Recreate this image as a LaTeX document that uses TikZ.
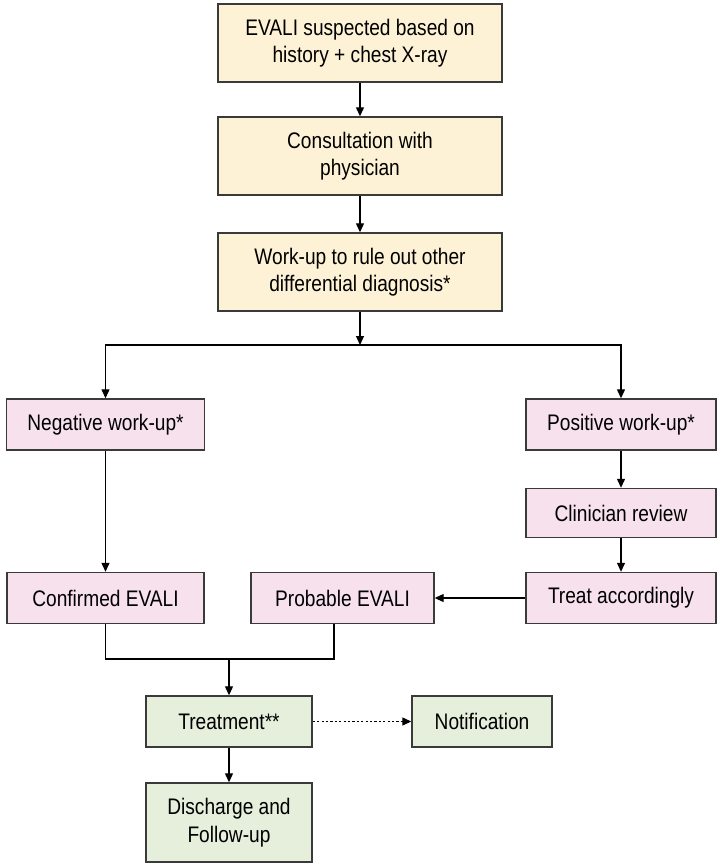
\documentclass[tikz,border=0pt]{standalone}
\usepackage{fontspec}
\setmainfont{Liberation Sans}[FakeStretch=0.85]
\usetikzlibrary{arrows.meta,calc}
\definecolor{edgec}{HTML}{3A3A3A}
\definecolor{yel}{HTML}{FEF2D6}
\definecolor{pnk}{HTML}{F7E1EC}
\definecolor{grn}{HTML}{E5EFDC}
\tikzset{
  boxbase/.style={draw=edgec, line width=1.4pt, rectangle, align=center, inner sep=0pt,
    font=\fontsize{22.5}{27.5}\selectfont},
  ybox/.style={boxbase, fill=yel, minimum width=284pt, minimum height=78pt},
  pbox/.style={boxbase, fill=pnk, minimum height=51pt},
  gbox/.style={boxbase, fill=grn, minimum height=51pt},
  arr/.style={draw=black, line width=1.2pt, -{Triangle[length=9pt,width=8pt]}},
  ln/.style={draw=black, line width=1.2pt},
  dotarr/.style={arr, dash pattern=on 2.2pt off 2.2pt}
}
\begin{document}
\begin{tikzpicture}[x=1pt,y=-1pt]
\useasboundingbox (0,0) rectangle (718,863);
\node[ybox] (b1) at (360,43) {EVALI suspected based on\\history + chest X-ray};
\node[ybox] (b2) at (360,156) {Consultation with\\physician};
\node[ybox] (b3) at (360,272) {Work-up to rule out other\\differential diagnosis*};
\node[pbox, minimum width=198pt] (neg) at (105.5,424.5) {Negative work-up*};
\node[pbox, minimum width=190pt] (pos) at (621,424.5) {Positive work-up*};
\node[pbox, minimum width=190pt, minimum height=49pt] (clin) at (621,513) {Clinician review};
\node[pbox, minimum width=190pt] (treat) at (621,598) {Treat accordingly};
\node[pbox, minimum width=197pt] (conf) at (105.5,598) {Confirmed EVALI};
\node[pbox, minimum width=183pt] (prob) at (342.5,598) {Probable EVALI};
\node[gbox, minimum width=166pt] (tr) at (229,721.5) {Treatment**};
\node[gbox, minimum width=140pt] (notif) at (482,721.5) {Notification};
\node[gbox, minimum width=166pt, minimum height=79pt] (dis) at (229,822.5) {Discharge and\\Follow-up};
\coordinate (split) at (360,345);
\coordinate (m) at (229,659);
\coordinate (jr) at (334,659);
\draw[arr] (b1) -- (b2);
\draw[arr] (b2) -- (b3);
\draw[arr] (b3) -- (split);
\draw[arr] (split) -| (neg.north);
\draw[arr] (split) -| (pos.north);
\draw[arr] (neg) -- (conf);
\draw[arr] (pos) -- (clin);
\draw[arr] (clin) -- (treat);
\draw[arr] (treat) -- (prob);
\draw[ln] (conf.south) -- (conf.south |- m) -- (jr) -- (jr |- prob.south);
\draw[arr] (m) -- (tr.north);
\draw[arr] (tr) -- (dis);
\draw[dotarr] (tr) -- (notif);
\end{tikzpicture}
\end{document}
